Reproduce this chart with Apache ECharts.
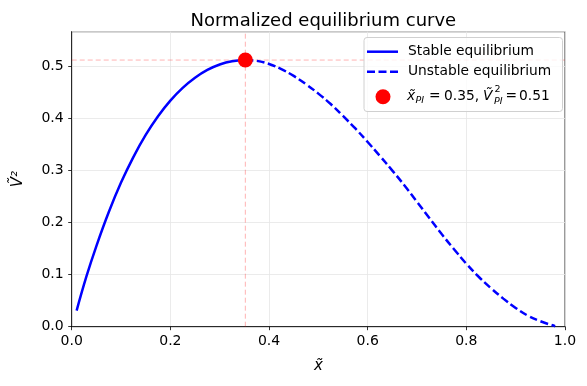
<!DOCTYPE html>
<html>
<head>
<meta charset="utf-8">
<script src="https://cdn.jsdelivr.net/npm/echarts@6/dist/echarts.min.js"></script>
<style>html,body{margin:0;padding:0;background:#fff}#c{width:587px;height:386px}</style>
</head>
<body>
<div id="c"></div>
<script>
// Data
var stableX = [0.01, 0.03, 0.05, 0.075, 0.10, 0.125, 0.15, 0.175, 0.20, 0.225, 0.25, 0.275, 0.30, 0.325, 0.352];
var stableY = [0.031, 0.097, 0.155, 0.220, 0.277, 0.326, 0.3685, 0.4045, 0.4345, 0.459, 0.4785, 0.4935, 0.504, 0.5103, 0.5125];
var unstableX = [0.352, 0.375, 0.40, 0.425, 0.45, 0.475, 0.50, 0.525, 0.55, 0.575, 0.60, 0.625, 0.65, 0.675, 0.70, 0.725, 0.75, 0.775, 0.80, 0.825, 0.85, 0.875, 0.90, 0.925, 0.95, 0.98];
var unstableY = [0.5125, 0.511, 0.505, 0.495, 0.482, 0.466, 0.448, 0.428, 0.405, 0.381, 0.355, 0.328, 0.300, 0.271, 0.240, 0.209, 0.178, 0.149, 0.121, 0.096, 0.074, 0.054, 0.036, 0.021, 0.0105, 0.001];
var peakX = 0.352, peakY = 0.5125;
var xMin = 0, xMax = 1, yMin = 0, yMax = 0.567;

function pairs(xs, ys) { return xs.map(function (x, i) { return [x, ys[i]]; }); }

var FONT = 'DejaVu Sans';
var chart = echarts.init(document.getElementById('c'), null, { renderer: 'canvas' });
var gridL = 71.7, gridR = 22, gridT = 31.7, gridB = 59.3;

var axisCommon = {
  axisLine: { show: true, lineStyle: { color: '#000', width: 0.8 } },
  axisTick: { show: true, inside: false, length: 3.5, lineStyle: { color: '#000', width: 0.8 } },
  splitLine: { show: true, lineStyle: { color: '#e6e6e6', width: 0.8 } },
  axisLabel: { color: '#000', fontFamily: FONT, fontSize: 14, formatter: function (v) { return v.toFixed(1); } }
};
var refStyle = { color: 'rgba(255,0,0,0.3)', width: 1, type: [5, 3] };
var DASH = [8, 3.5];

var lx = 367, lt = 51.7;
var option = {
  animation: false,
  backgroundColor: '#fff',
  title: {
    text: 'Normalized equilibrium curve',
    left: (gridL + 587 - gridR) / 2, textAlign: 'center', top: 7,
    textStyle: { fontFamily: FONT, fontSize: 18, fontWeight: 'normal', color: '#000' }
  },
  grid: { left: gridL, right: gridR, top: gridT, bottom: gridB, show: true, borderColor: '#000', borderWidth: 0.8, containLabel: false },
  xAxis: Object.assign({}, axisCommon, {
    type: 'value', min: xMin, max: xMax, interval: 0.2,
    name: 'x\u0303', nameLocation: 'middle', nameGap: 32,
    nameTextStyle: { fontFamily: FONT, fontSize: 15, fontStyle: 'italic', color: '#000' },
    axisLabel: Object.assign({}, axisCommon.axisLabel, { margin: 8 })
  }),
  yAxis: Object.assign({}, axisCommon, {
    type: 'value', min: yMin, max: yMax, interval: 0.1,
    name: '\u1E7C\u00B2', nameLocation: 'middle', nameGap: 46, nameRotate: 90,
    nameTextStyle: { fontFamily: FONT, fontSize: 15, fontStyle: 'italic', color: '#000' },
    axisLabel: Object.assign({}, axisCommon.axisLabel, { margin: 8, showMaxLabel: false })
  }),
  series: [
    { name: 'vref', type: 'line', data: [[peakX, yMin], [peakX, yMax]], symbol: 'none', silent: true, lineStyle: refStyle, z: 1 },
    { name: 'href', type: 'line', data: [[xMin, peakY], [xMax, peakY]], symbol: 'none', silent: true, lineStyle: refStyle, z: 1 },
    {
      name: 'Stable equilibrium', type: 'line', data: pairs(stableX, stableY), smooth: 0.4,
      symbol: 'none', lineStyle: { color: '#0000ff', width: 2.5 }, z: 3
    },
    {
      name: 'Unstable equilibrium', type: 'line', data: pairs(unstableX, unstableY), smooth: 0.4,
      symbol: 'none', lineStyle: { color: '#0000ff', width: 2.5, type: DASH }, z: 3
    },
    {
      name: 'peak', type: 'scatter', data: [[peakX, peakY]], symbol: 'circle', symbolSize: 15,
      itemStyle: { color: '#ff0000', opacity: 1 }, z: 5
    }
  ],
  graphic: [
    { type: 'rect', shape: { x: 364, y: 37.5, width: 198.5, height: 74, r: 3 }, style: { fill: 'rgba(255,255,255,0.8)', stroke: '#d0d0d0', lineWidth: 1 }, z: 10 },
    { type: 'line', shape: { x1: lx, y1: lt, x2: lx + 31, y2: lt }, style: { stroke: '#0000ff', lineWidth: 2.5 }, z: 11 },
    { type: 'text', x: 408, y: lt, style: { text: 'Stable equilibrium', fontFamily: FONT, fontSize: 13.8, fill: '#000', verticalAlign: 'middle' }, z: 11 },
    { type: 'line', shape: { x1: lx, y1: lt + 20, x2: lx + 31, y2: lt + 20 }, style: { stroke: '#0000ff', lineWidth: 2.5, lineDash: DASH }, z: 11 },
    { type: 'text', x: 408, y: lt + 20, style: { text: 'Unstable equilibrium', fontFamily: FONT, fontSize: 13.8, fill: '#000', verticalAlign: 'middle' }, z: 11 },
    { type: 'circle', shape: { cx: 383, cy: 96.7, r: 7.5 }, style: { fill: '#ff0000' }, z: 11 },
    { type: 'text', x: 407, y: 96, style: { text: 'x\u0303', fontFamily: FONT, fontSize: 13.8, fontStyle: 'italic', fill: '#000', verticalAlign: 'middle' }, z: 11 },
    { type: 'text', x: 415.5, y: 100.5, style: { text: 'PI', fontFamily: FONT, fontSize: 9.5, fontStyle: 'italic', fill: '#000', verticalAlign: 'middle' }, z: 11 },
    { type: 'text', x: 429, y: 96.7, style: { text: '=', fontFamily: FONT, fontSize: 13.8, fill: '#000', verticalAlign: 'middle' }, z: 11 },
    { type: 'text', x: 444, y: 96.7, style: { text: '0.35,', fontFamily: FONT, fontSize: 13.8, fill: '#000', verticalAlign: 'middle' }, z: 11 },
    { type: 'text', x: 483, y: 96.2, style: { text: '\u1E7C', fontFamily: FONT, fontSize: 13.8, fontStyle: 'italic', fill: '#000', verticalAlign: 'middle' }, z: 11 },
    { type: 'text', x: 494.5, y: 89.5, style: { text: '2', fontFamily: FONT, fontSize: 9.5, fill: '#000', verticalAlign: 'middle' }, z: 11 },
    { type: 'text', x: 494, y: 101.5, style: { text: 'PI', fontFamily: FONT, fontSize: 9.5, fontStyle: 'italic', fill: '#000', verticalAlign: 'middle' }, z: 11 },
    { type: 'text', x: 505.5, y: 96.7, style: { text: '=', fontFamily: FONT, fontSize: 13.8, fill: '#000', verticalAlign: 'middle' }, z: 11 },
    { type: 'text', x: 519, y: 96.7, style: { text: '0.51', fontFamily: FONT, fontSize: 13.8, fill: '#000', verticalAlign: 'middle' }, z: 11 }
  ]
};
chart.setOption(option);
</script>
</body>
</html>
